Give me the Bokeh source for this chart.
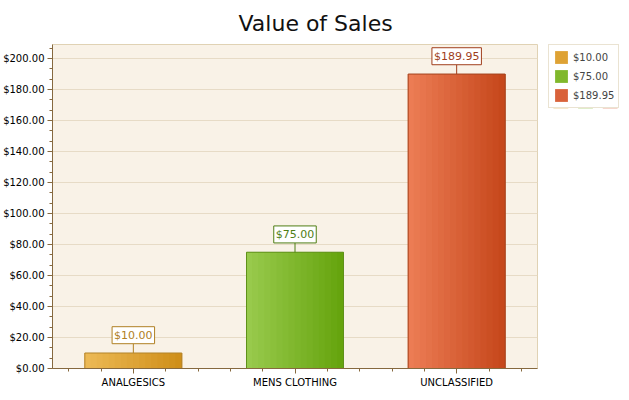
from bokeh.plotting import figure
from bokeh.layouts import row
from bokeh.models import (ColumnDataSource, Range1d, FixedTicker,
                          SingleIntervalTicker, NumeralTickFormatter, Legend, LegendItem)
from bokeh.core.properties import value
from bokeh.embed import file_html
from bokeh.resources import INLINE

cats = ["ANALGESICS", "MENS CLOTHING", "UNCLASSIFIED"]
sales = [10.00, 75.00, 189.95]
sales_labels = ["$10.00", "$75.00", "$189.95"]

# bar colours: left edge, right edge, mid (legend), outline, label
left_cols = ["#ecb955", "#98ca4c", "#ec7c54"]
right_cols = ["#cf8f1a", "#66a40e", "#c6481c"]
mid_cols = ["#dea234", "#80b82c", "#d9623a"]
edge_cols = ["#b3842c", "#5f911a", "#a4441e"]
label_cols = ["#b08024", "#4f7e14", "#a03e1c"]

FONT = "DejaVu Sans"
BAR_W = 0.6
FRAME_W, FRAME_H = 485, 324


def mix(c1, c2, t):
    a = [int(c1[i:i + 2], 16) for i in (1, 3, 5)]
    b = [int(c2[i:i + 2], 16) for i in (1, 3, 5)]
    return "#%02x%02x%02x" % tuple(round(x + (y - x) * t) for x, y in zip(a, b))


# category slots: one unit each, bar centred in its slot
cat_x = [i + 0.5 for i in range(len(cats))]

src = ColumnDataSource(dict(x=cat_x, val=sales, label=sales_labels,
                            label_y=[v + 6 for v in sales],
                            mid=mid_cols, edge=edge_cols, lcol=label_cols))

p = figure(x_range=Range1d(0, len(cats)), y_range=Range1d(0, 209),
           frame_width=FRAME_W, frame_height=FRAME_H,
           output_backend="svg", toolbar_location=None,
           min_border_left=45, min_border_bottom=5, min_border_right=5)

p.title.text = "Value of Sales"
p.title.text_font = FONT
p.title.text_font_size = "22px"
p.title.text_font_style = "normal"
p.title.text_color = "#111111"
p.title.align = "left"
p.title.offset = 186
p.title.standoff = 17

p.background_fill_color = "#f9f2e7"
p.border_fill_color = "white"
p.outline_line_color = "#e0d2b4"
p.xgrid.grid_line_color = None
p.ygrid.grid_line_color = "#e7dbc6"

# base fill
p.vbar(x="x", top="val", width=BAR_W, fill_color="mid", line_color=None, source=src)

# horizontal gradient made of thin strips
n = 16
for i in range(n):
    t = i / (n - 1)
    off = -BAR_W / 2 + (i + 0.5) * BAR_W / n
    s = ColumnDataSource(dict(x=[c + off for c in cat_x], val=sales,
                              col=[mix(a, b, t) for a, b in zip(left_cols, right_cols)]))
    p.vbar(x="x", top="val", width=BAR_W / n + 0.004,
           fill_color="col", line_color=None, source=s)

p.vbar(x="x", top="val", width=BAR_W, fill_color=None, line_color="edge", source=src)

# value labels with connector
p.segment(x0="x", y0="val", x1="x", y1="label_y", line_color="lcol", source=src)
p.text(x="x", y="label_y", text="label", text_align="center", text_baseline="bottom",
       text_font=value(FONT), text_font_size="11px", text_color="lcol",
       background_fill_color="white", border_line_color="lcol", padding=2, source=src)

# y axis
p.yaxis.ticker = SingleIntervalTicker(interval=20, num_minor_ticks=3)
p.yaxis.formatter = NumeralTickFormatter(format="$0.00")

# x axis: category names at slot centres, minor ticks in between
minor = [i + f for i in range(len(cats)) for f in (0.1, 0.3, 0.7, 0.9)]
p.xaxis.ticker = FixedTicker(ticks=cat_x, minor_ticks=minor)
p.xaxis.major_label_overrides = {m: c for m, c in zip(cat_x, cats)}

for ax in (p.yaxis[0], p.xaxis[0]):
    ax.axis_line_color = "#86693f"
    ax.major_tick_line_color = "#86693f"
    ax.minor_tick_line_color = "#86693f"
    ax.major_tick_in = 0
    ax.minor_tick_in = 0
    ax.major_tick_out = 5
    ax.minor_tick_out = 3
    ax.major_label_text_font = FONT
    ax.major_label_text_font_size = "10px"
    ax.major_label_text_color = "black"
    ax.major_label_standoff = 3

# legend lives in a narrow side figure (its bars are out of view)
q = figure(width=80, height=130, x_range=Range1d(0, len(cats)),
           y_range=Range1d(1000, 1001), x_axis_type=None, y_axis_type=None,
           output_backend="svg", toolbar_location=None,
           min_border=0, min_border_top=35, min_border_left=6)
q.outline_line_color = None
q.grid.grid_line_color = None
q.background_fill_color = "white"
swatch = q.vbar(x="x", top="val", width=BAR_W, fill_color="mid", line_color=None, source=src)

legend = Legend(items=[LegendItem(label=sales_labels[i], renderers=[swatch], index=i)
                       for i in range(len(cats))],
                location="top_left")
legend.border_line_color = "#d6c7a6"
legend.background_fill_color = "white"
legend.label_text_font = FONT
legend.label_text_font_size = "10px"
legend.glyph_width = 16
legend.glyph_height = 16
legend.spacing = 3
legend.padding = 4
legend.margin = 0
legend.label_standoff = 4
legend.label_height = 16
q.add_layout(legend)

layout = row(p, q, spacing=0)
open("out.html", "w").write(file_html(layout, INLINE))
